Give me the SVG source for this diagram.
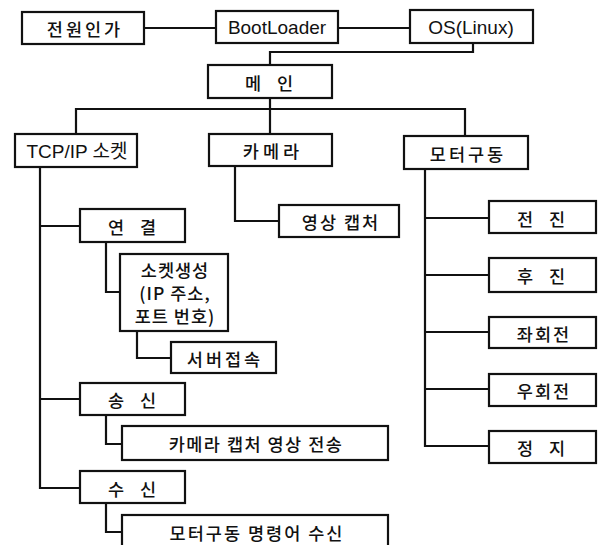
<svg xmlns="http://www.w3.org/2000/svg" width="600" height="545" viewBox="0 0 600 545">
<style>
.box{fill:#fff;stroke:#111;stroke-width:2.2}
.ln{fill:none;stroke:#111;stroke-width:2.2}
text{font-family:"Noto Sans CJK KR","Liberation Sans",sans-serif;font-size:17.5px;font-weight:500;fill:#111;text-anchor:middle;dominant-baseline:central}
.en{font-family:"Liberation Sans","Noto Sans CJK KR",sans-serif;font-size:19px;font-weight:normal}
</style>
<rect width="600" height="545" fill="#fff"/>
<g id="connectors">
<polyline class="ln" points="144,28 216,28"/>
<polyline class="ln" points="338,28 410,28"/>
<polyline class="ln" points="473,43 473,52 270,52 270,65"/>
<polyline class="ln" points="270,98 270,134"/>
<polyline class="ln" points="76,134 76,109 465,109 465,136"/>
<polyline class="ln" points="40,167 40,488 80,488"/>
<polyline class="ln" points="40,226 80,226"/>
<polyline class="ln" points="40,399 80,399"/>
<polyline class="ln" points="106,242 106,292 120,292"/>
<polyline class="ln" points="137,331 137,358 171,358"/>
<polyline class="ln" points="106,415 106,444 122,444"/>
<polyline class="ln" points="106,503 106,532 122,532"/>
<polyline class="ln" points="235,166 235,221 279,221"/>
<polyline class="ln" points="425,169 425,446 489,446"/>
<polyline class="ln" points="425,218 489,218"/>
<polyline class="ln" points="425,275 489,275"/>
<polyline class="ln" points="425,332 489,332"/>
<polyline class="ln" points="425,389 489,389"/>
</g>
<g id="n-power"><rect class="box" x="22" y="12" width="122" height="32"/><text x="85" y="28" letter-spacing="3">전원인가</text></g>
<g id="n-boot"><rect class="box" x="216" y="11" width="122" height="32"/><text class="en" x="277" y="27">BootLoader</text></g>
<g id="n-os"><rect class="box" x="410" y="10" width="123" height="33"/><text class="en" x="471" y="27">OS(Linux)</text></g>
<g id="n-main"><rect class="box" x="208" y="65" width="124" height="33"/><text x="272" y="82" letter-spacing="6">메 인</text></g>
<g id="n-tcp"><rect class="box" x="15" y="134" width="122" height="33"/><text class="en" x="77" y="151">TCP/IP 소켓</text></g>
<g id="n-camera"><rect class="box" x="209" y="134" width="123" height="32"/><text x="273" y="150" letter-spacing="4">카메라</text></g>
<g id="n-motor"><rect class="box" x="404" y="136" width="124" height="33"/><text x="468" y="153" letter-spacing="3">모터구동</text></g>
<g id="n-capture"><rect class="box" x="279" y="205" width="120" height="32"/><text x="341" y="221" letter-spacing="2">영상 캡처</text></g>
<g id="n-connect"><rect class="box" x="80" y="209" width="105" height="33"/><text x="135" y="226" letter-spacing="6">연 결</text></g>
<g id="n-socket"><rect class="box" x="120" y="254" width="108" height="77"/><text x="175" y="269" letter-spacing="1">소켓생성</text><text x="175" y="292" letter-spacing="1">(IP 주소,</text><text x="175" y="315" letter-spacing="1">포트 번호)</text></g>
<g id="n-server"><rect class="box" x="171" y="342" width="105" height="31"/><text x="225" y="358" letter-spacing="3">서버접속</text></g>
<g id="n-send"><rect class="box" x="80" y="383" width="105" height="32"/><text x="135" y="399" letter-spacing="6">송 신</text></g>
<g id="n-sendcam"><rect class="box" x="122" y="426" width="266" height="34"/><text x="256" y="443" letter-spacing="1.5">카메라 캡처 영상 전송</text></g>
<g id="n-recv"><rect class="box" x="80" y="471" width="105" height="32"/><text x="135" y="488" letter-spacing="6">수 신</text></g>
<g id="n-recvcmd"><rect class="box" x="122" y="515" width="266" height="45"/><text x="257" y="532" letter-spacing="2">모터구동 명령어 수신</text></g>
<g id="n-fwd"><rect class="box" x="489" y="201" width="107" height="32"/><text x="544" y="218" letter-spacing="6">전 진</text></g>
<g id="n-back"><rect class="box" x="489" y="258" width="107" height="34"/><text x="544" y="275" letter-spacing="6">후 진</text></g>
<g id="n-left"><rect class="box" x="489" y="317" width="107" height="31"/><text x="544" y="333" letter-spacing="2">좌회전</text></g>
<g id="n-right"><rect class="box" x="489" y="374" width="107" height="32"/><text x="544" y="390" letter-spacing="2">우회전</text></g>
<g id="n-stop"><rect class="box" x="489" y="431" width="107" height="32"/><text x="544" y="447" letter-spacing="6">정 지</text></g>
</svg>
